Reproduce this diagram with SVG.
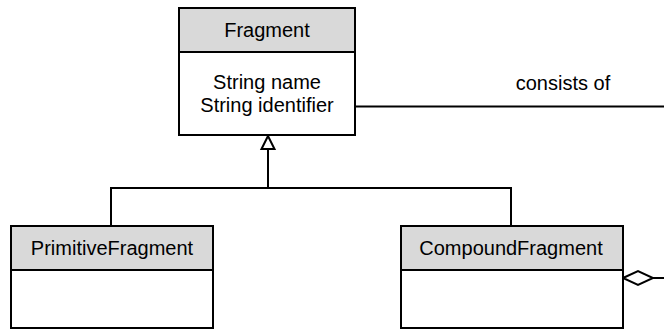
<svg xmlns="http://www.w3.org/2000/svg" width="664" height="331" viewBox="0 0 664 331">
<style>
.box{fill:#ffffff;stroke:#000000;stroke-width:2}
.hdr{fill:#d9d9d9;stroke:#000000;stroke-width:2}
.ln{fill:none;stroke:#000000;stroke-width:2}
text{font-family:"Liberation Sans",Arial,sans-serif;font-size:20px;fill:#000000;text-anchor:middle}
</style>
<rect width="664" height="331" fill="#ffffff"/>
<g id="connectors">
<polyline class="ln" points="268,149 268,188"/>
<polyline class="ln" points="111,226 111,188 511,188 511,226"/>
<polygon points="268,136 261.5,149 274.5,149" fill="#ffffff" stroke="#000000" stroke-width="2"/>
<line class="ln" x1="355" y1="106.5" x2="664" y2="106.5"/>
<line class="ln" x1="653" y1="278" x2="664" y2="278"/>
<polygon points="623,278 638,271 653,278 638,285" fill="#ffffff" stroke="#000000" stroke-width="2"/>
<text x="563" y="90">consists of</text>
</g>
<g id="Fragment">
<rect class="box" x="179" y="8" width="176" height="127"/>
<rect class="hdr" x="179" y="8" width="176" height="44"/>
<text x="267" y="37">Fragment</text>
<text x="267" y="89">String name</text>
<text x="267" y="112">String identifier</text>
</g>
<g id="PrimitiveFragment">
<rect class="box" x="11" y="226" width="202" height="102"/>
<rect class="hdr" x="11" y="226" width="202" height="44"/>
<text x="112" y="255">PrimitiveFragment</text>
</g>
<g id="CompoundFragment">
<rect class="box" x="401" y="226" width="222" height="102"/>
<rect class="hdr" x="401" y="226" width="222" height="44"/>
<text x="511" y="255">CompoundFragment</text>
</g>
</svg>
